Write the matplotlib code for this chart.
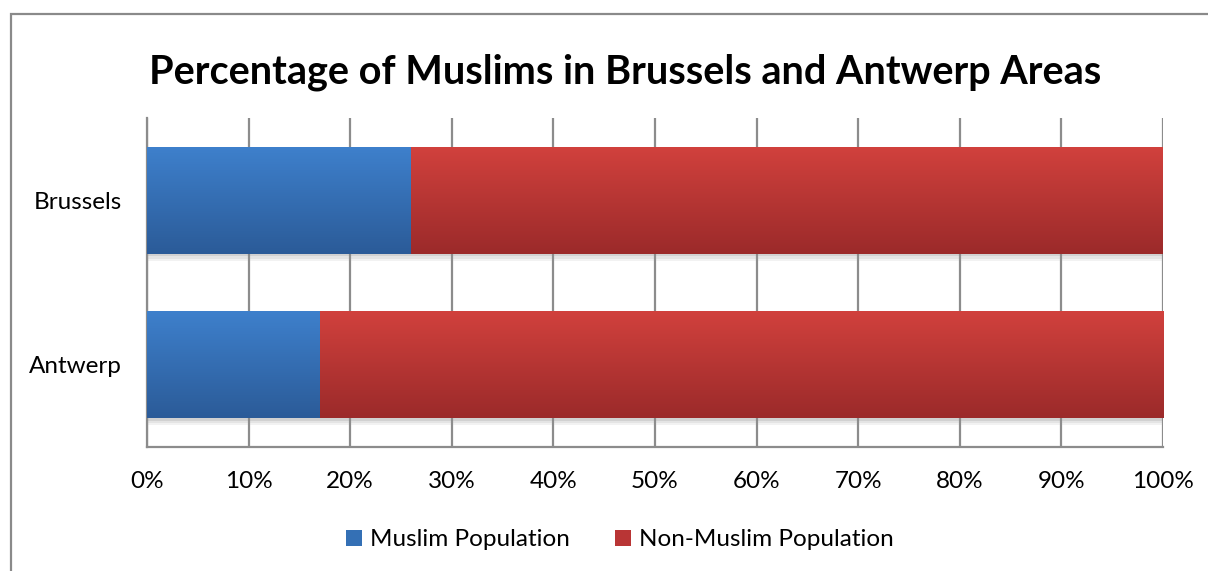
import numpy as np
import matplotlib
matplotlib.use("Agg")
import matplotlib.pyplot as plt
from matplotlib.colors import LinearSegmentedColormap
from matplotlib.patches import Rectangle, Patch
import matplotlib.patheffects as pe

# ---- data ----
categories = ["Antwerp", "Brussels"]
muslim_pct = [17, 26]
non_muslim_pct = [83, 74]
series_names = ["Muslim Population", "Non-Muslim Population"]
tick_values = [0, 10, 20, 30, 40, 50, 60, 70, 80, 90, 100]
tick_labels = [f"{v}%" for v in tick_values]
title = "Percentage of Muslims in Brussels and Antwerp Areas"

# colours (top, bottom of gradient)
blue_grad = ("#3E80CC", "#2B5B98")
red_grad = ("#D1413D", "#9B2A2A")

plt.rcParams['font.family'] = ['Lato', 'DejaVu Sans']

W, H = 1208, 571
fig = plt.figure(figsize=(W / 100, H / 100), dpi=100)

# outer frame
frame = Rectangle((11 / W, -0.1), 1.2, 1 - 13.5 / H + 0.1, transform=fig.transFigure,
                  fill=False, edgecolor="#8a8a8a", lw=1.6, clip_on=False)
fig.patches.append(frame)

ax = fig.add_axes([147 / W, 1 - 447 / H, (1163 - 147) / W, (447 - 118) / H])
y = np.arange(len(categories))
bar_h = 0.65
shadow = [pe.SimplePatchShadow(offset=(0, -5), shadow_rgbFace="#999999", alpha=0.12),
          pe.SimplePatchShadow(offset=(0, -3.5), shadow_rgbFace="#999999", alpha=0.15),
          pe.SimplePatchShadow(offset=(0, -2), shadow_rgbFace="#888888", alpha=0.2),
          pe.Normal()]
b1 = ax.barh(y, muslim_pct, height=bar_h, color=blue_grad[1], zorder=3, path_effects=shadow)
b2 = ax.barh(y, non_muslim_pct, left=muslim_pct, height=bar_h, color=red_grad[1], zorder=3,
             path_effects=shadow)

grad = np.linspace(0, 1, 256).reshape(-1, 1)
for bars, (top, bot) in ((b1, blue_grad), (b2, red_grad)):
    cmap = LinearSegmentedColormap.from_list("g", [top, bot])
    for p in bars:
        x0, y0 = p.get_x(), p.get_y()
        w, h = p.get_width(), p.get_height()
        im = ax.imshow(grad, cmap=cmap, aspect="auto", extent=[x0, x0 + w, y0, y0 + h],
                       origin="upper", zorder=4, interpolation="bilinear")
        im.set_clip_path(p)

ax.set_xlim(0, 100)
ax.set_ylim(-0.5, len(categories) - 0.5)
ax.set_xticks(tick_values)
ax.set_xticklabels(tick_labels)
ax.set_yticks(y)
ax.set_yticklabels(categories)
ax.tick_params(axis="both", length=0, labelsize=17.5, colors="black")
ax.tick_params(axis="x", pad=17)
ax.tick_params(axis="y", pad=18)
ax.xaxis.grid(True, color="#8c8c8c", lw=1.6, zorder=1)
ax.set_axisbelow(True)
for s in ("top", "right"):
    ax.spines[s].set_visible(False)
for s in ("left", "bottom"):
    ax.spines[s].set_color("#8c8c8c")
    ax.spines[s].set_linewidth(1.6)

fig.text(625 / W, 1 - 72 / H, title, ha="center", va="center", fontsize=28.5, fontweight="bold")

handles = [Patch(facecolor="#3470B5", edgecolor="none"), Patch(facecolor="#B93535", edgecolor="none")]
fig.legend(handles, series_names, loc="center", bbox_to_anchor=(620 / W, 1 - 540 / H), ncol=2,
           frameon=False, fontsize=17.5, handlelength=0.65, handleheight=0.65, handletextpad=0.35,
           columnspacing=1.85)

fig.savefig("out.png", dpi=100)
